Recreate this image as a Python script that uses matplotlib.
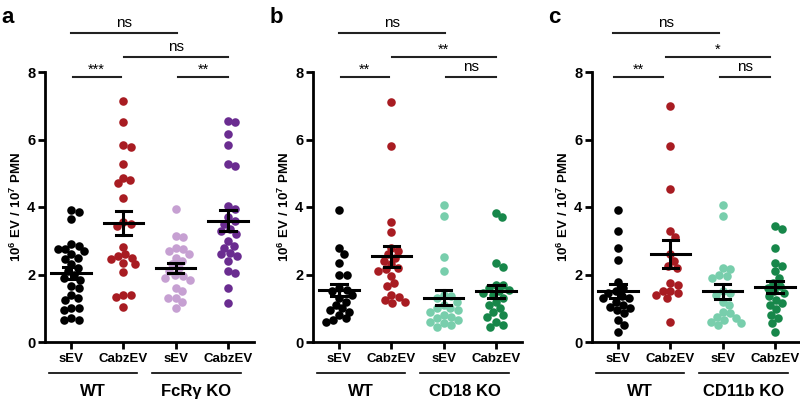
import matplotlib
matplotlib.use('Agg')
import matplotlib.pyplot as plt
import numpy as np

plt.rcParams['font.family'] = ['Liberation Sans', 'DejaVu Sans']
plt.rcParams['mathtext.fontset'] = 'custom'
plt.rcParams['mathtext.rm'] = 'Liberation Sans'
plt.rcParams['mathtext.bf'] = 'Liberation Sans:bold'

conditions = ['sEV', 'CabzEV', 'sEV', 'CabzEV']

# panel a: WT vs FcRγ KO
a_wt_sev = [3.9, 3.85, 3.65, 2.9, 2.85, 2.75, 2.75, 2.7, 2.6, 2.5, 2.45, 2.3, 2.2, 2.1,
            2.0, 1.9, 1.85, 1.65, 1.6, 1.4, 1.3, 1.25, 1.0, 1.0, 0.95, 0.7, 0.65, 0.65]
a_wt_cabz = [7.13, 6.53, 5.83, 5.78, 5.27, 4.87, 4.79, 4.71, 4.28, 3.55, 3.45, 3.5,
             2.82, 2.6, 2.55, 2.5, 2.45, 2.35, 2.3, 2.07, 1.4, 1.38, 1.33, 1.04]
a_ko_sev = [3.95, 3.1, 3.15, 2.8, 2.75, 2.7, 2.6, 2.5, 2.4, 2.3, 2.2, 2.1, 2.0, 1.95,
            1.9, 1.85, 1.6, 1.5, 1.3, 1.3, 1.2, 1.0]
a_ko_cabz = [6.55, 6.51, 6.17, 5.84, 5.27, 5.21, 4.02, 3.95, 3.7, 3.6, 3.5, 3.35, 3.3,
             3.2, 3.0, 2.85, 2.8, 2.65, 2.6, 2.55, 2.4, 2.1, 2.05, 1.6, 1.15]

# panel b: WT vs CD18 KO
b_wt_sev = [3.9, 2.78, 2.6, 2.35, 2.0, 1.98, 1.6, 1.55, 1.5, 1.4, 1.3, 1.2, 1.1, 1.0,
            0.95, 0.9, 0.8, 0.7, 0.65, 0.6]
b_wt_cabz = [7.12, 5.82, 3.57, 3.27, 2.8, 2.7, 2.6, 2.5, 2.4, 2.3, 2.2, 2.15, 2.1, 1.95,
             1.74, 1.66, 1.39, 1.34, 1.25, 1.2, 1.15]
b_ko_sev = [4.05, 3.73, 2.53, 2.1, 1.4, 1.35, 1.3, 1.2, 1.1, 1.0, 1.0, 0.95, 0.9, 0.8,
            0.75, 0.7, 0.65, 0.6, 0.55, 0.5, 0.45]
b_ko_cabz = [3.82, 3.7, 2.33, 2.23, 1.7, 1.7, 1.6, 1.55, 1.5, 1.45, 1.4, 1.3, 1.2, 1.1,
             1.0, 0.9, 0.8, 0.75, 0.6, 0.5, 0.45]

# panel c: WT vs CD11b KO
c_wt_sev = [3.9, 3.3, 2.78, 2.42, 1.78, 1.6, 1.5, 1.45, 1.35, 1.3, 1.3, 1.2, 1.1, 1.05,
            1.0, 0.95, 0.85, 0.65, 0.5, 0.3]
c_wt_cabz = [7.0, 5.82, 4.53, 3.3, 3.12, 2.6, 2.4, 2.25, 2.2, 1.75, 1.7, 1.5, 1.5, 1.45,
             1.4, 1.3, 0.58]
c_ko_sev = [4.05, 3.72, 2.2, 2.15, 2.0, 1.95, 1.9, 1.5, 1.45, 1.4, 1.2, 1.1, 0.9, 0.85,
            0.75, 0.7, 0.65, 0.6, 0.55, 0.5]
c_ko_cabz = [3.44, 3.34, 2.78, 2.34, 2.24, 2.09, 1.9, 1.75, 1.65, 1.6, 1.5, 1.45, 1.35,
             1.25, 1.15, 1.1, 0.98, 0.81, 0.7, 0.56, 0.31]

ko_names = ['FcR\u03b3 KO', 'CD18 KO', 'CD11b KO']
sig_a = ['ns', 'ns', '***', '**']
sig_b = ['ns', '**', '**', 'ns']
sig_c = ['ns', '*', '**', 'ns']

red = '#a81c22'
colors_a = ['#000000', red, '#c6a0d2', '#6a2c90']
colors_b = ['#000000', red, '#78ceac', '#17874a']
colors_c = colors_b

PX_PER_Y = 270 / 8.0     # pixels per y unit
PX_PER_X = 209 / 4.0     # pixels per category


def swarm_offsets(vals, d):
    # simple beeswarm: place points (in pixel space) so centres are at least d apart
    ys = np.asarray(vals) * PX_PER_Y
    order = np.argsort(-ys)
    placed = []
    xs = np.zeros(len(ys))
    for k in order:
        y = ys[k]
        cands = [0.0]
        for (px, py) in placed:
            dy = abs(py - y)
            if dy < d:
                dx = np.sqrt(d * d - dy * dy)
                cands += [px + dx, px - dx]
        cands.sort(key=abs)
        for c in cands:
            ok = all((c - px) ** 2 + (y - py) ** 2 >= d * d - 1e-6 for px, py in placed)
            if ok:
                break
        placed.append((c, y))
        xs[k] = c
    return xs / PX_PER_X


def draw_panel(ax, groups, colors, ko_name, sigs, letter, sig_off):
    for i, g in enumerate(groups):
        off = swarm_offsets(g, 7.6)
        ax.scatter(i + off, g, s=38, color=colors[i], linewidths=0, zorder=2, clip_on=False)
        m = np.mean(g)
        sem = np.std(g, ddof=1) / np.sqrt(len(g))
        ax.plot([i - 0.38, i + 0.38], [m, m], color='black', lw=2.2, zorder=3)
        ax.plot([i, i], [m - sem, m + sem], color='black', lw=2.2, zorder=3)
        for yy in (m - sem, m + sem):
            ax.plot([i - 0.15, i + 0.15], [yy, yy], color='black', lw=2.2, zorder=3)

    ax.set_xlim(-0.5, 3.5)
    ax.set_ylim(0, 8)
    ax.set_yticks([0, 2, 4, 6, 8])
    ax.set_xticks(range(4))
    ax.set_xticklabels(conditions, fontweight='bold', fontsize=9.5)
    for t in ax.get_yticklabels():
        t.set_fontweight('bold')
        t.set_fontsize(10.5)
    ax.set_ylabel(r'$\mathbf{10^6\ EV\ /\ 10^7\ PMN}$', fontsize=9.5, labelpad=2)
    for s in ['top', 'right']:
        ax.spines[s].set_visible(False)
    for s in ['left', 'bottom']:
        ax.spines[s].set_linewidth(2)
    ax.tick_params(axis='both', width=2, length=5, direction='out', pad=2)
    ax.tick_params(axis='x', pad=3)

    # genotype groups under the axis
    kw = dict(color='black', lw=1.2, clip_on=False)
    ax.plot([-0.43, 1.27], [-0.92, -0.92], **kw)
    ax.plot([1.55, 3.25], [-0.92, -0.92], **kw)
    ax.text(0.42, -1.47, 'WT', ha='center', va='center', fontsize=12, fontweight='bold')
    ax.text(2.4, -1.47, ko_name, ha='center', va='center', fontsize=12, fontweight='bold')

    # significance brackets
    o = sig_off
    brackets = [(0 + o, 2.03 + o, 9.15), (1.01 + o, 3.0 + o, 8.44),
                (0.03 + o, 0.95 + o, 7.85), (2.05 + o, 3.0 + o, 7.85)]
    for (x1, x2, y), s in zip(brackets, sigs):
        ax.plot([x1, x2], [y, y], color='#222222', lw=1.5, clip_on=False)
        if '*' in s:
            ax.text((x1 + x2) / 2, y + 0.02, s, ha='center', va='bottom', fontsize=10.5)
        else:
            ax.text((x1 + x2) / 2, y + 0.08, s, ha='center', va='bottom', fontsize=11)
    ax.text(-0.21, 1.24, letter, transform=ax.transAxes, fontsize=16,
            fontweight='bold', ha='left', va='top')


fig = plt.figure(figsize=(8, 4.03), dpi=100)
h = 270 / 403
bot = 1 - 342 / 403
w = 209 / 800
ax_a = fig.add_axes([45 / 800, bot, w, h])
ax_b = fig.add_axes([313 / 800, bot, w, h])
ax_c = fig.add_axes([592 / 800, bot, w, h])

draw_panel(ax_a, [a_wt_sev, a_wt_cabz, a_ko_sev, a_ko_cabz], colors_a, ko_names[0], sig_a, 'a', 0.0)
draw_panel(ax_b, [b_wt_sev, b_wt_cabz, b_ko_sev, b_ko_cabz], colors_b, ko_names[1], sig_b, 'b', 0.0)
draw_panel(ax_c, [c_wt_sev, c_wt_cabz, c_ko_sev, c_ko_cabz], colors_c, ko_names[2], sig_c, 'c', -0.1)

fig.savefig('out.png', dpi=100)
